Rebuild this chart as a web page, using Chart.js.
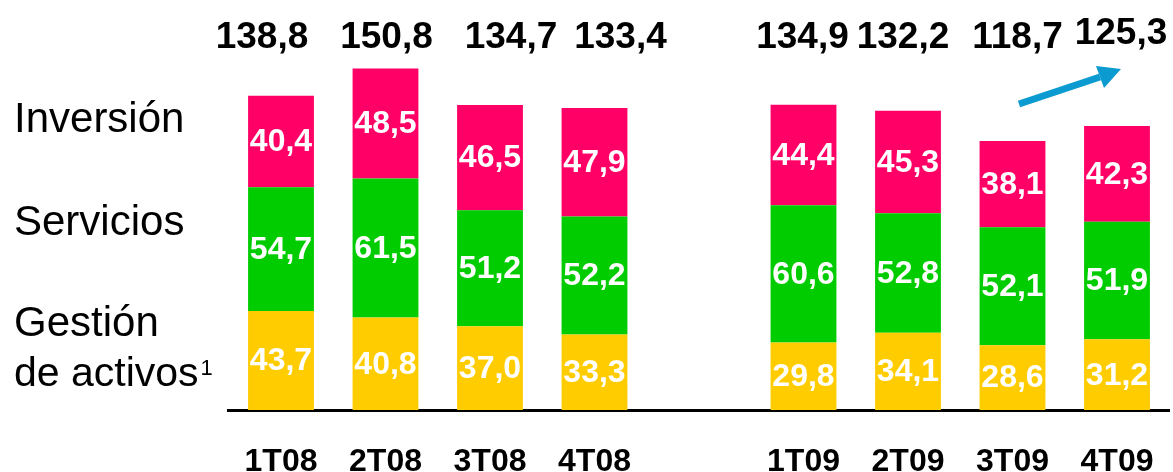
<!DOCTYPE html>
<html>
<head>
<meta charset="utf-8">
<script src="https://cdn.jsdelivr.net/npm/chart.js@4/dist/chart.umd.min.js"></script>
<style>
  body { margin: 0; background: #fff; }
  #wrap { width: 1173px; height: 472px; overflow: hidden; }
  #box { width: 1173px; height: 514px; position: relative; }
</style>
</head>
<body>
<div id="wrap"><div id="box"><canvas id="barChart"></canvas></div></div>
<script>
// quarters, with an empty slot between the two years
const quarters = ['1T08', '2T08', '3T08', '4T08', '', '1T09', '2T09', '3T09', '4T09'];
const gestion = [43.7, 40.8, 37.0, 33.3, null, 29.8, 34.1, 28.6, 31.2];
const servicios = [54.7, 61.5, 51.2, 52.2, null, 60.6, 52.8, 52.1, 51.9];
const inversion = [40.4, 48.5, 46.5, 47.9, null, 44.4, 45.3, 38.1, 42.3];
const totals = [138.8, 150.8, 134.7, 133.4, null, 134.9, 132.2, 118.7, 125.3];

// small nudges for the total labels (layout only)
const totalDx = [-19, 1, 21, 26, 0, -1, -5, 5, 4];
const totalDy = [0, 0, 0, 0, 0, 0, 0, 0, -4];

const FONT = '"Liberation Sans", Arial, sans-serif';

function fmt(v) {
    return v.toFixed(1).replace('.', ',');
}

// white numbers inside every segment
const segmentLabels = {
    id: 'segmentLabels',
    afterDatasetsDraw(chart) {
        const ctx = chart.ctx;
        ctx.save();
        ctx.fillStyle = '#fff';
        ctx.font = 'bold 32px ' + FONT;
        ctx.textAlign = 'center';
        ctx.textBaseline = 'middle';
        chart.data.datasets.forEach((ds, i) => {
            chart.getDatasetMeta(i).data.forEach((bar, j) => {
                const v = ds.data[j];
                if (v == null) return;
                ctx.fillText(fmt(v), bar.x, (bar.y + bar.base) / 2 + 1);
            });
        });
        ctx.restore();
    }
};

// totals, side labels and the trend arrow
const extras = {
    id: 'extras',
    afterDraw(chart) {
        const ctx = chart.ctx;
        const x = chart.scales.x;
        ctx.save();

        ctx.fillStyle = '#000';
        ctx.font = 'bold 37px ' + FONT;
        ctx.textAlign = 'center';
        ctx.textBaseline = 'alphabetic';
        totals.forEach((t, j) => {
            if (t == null) return;
            ctx.fillText(fmt(t), x.getPixelForValue(j) + totalDx[j], 48 + totalDy[j]);
        });

        ctx.font = '42px ' + FONT;
        ctx.textAlign = 'left';
        ctx.fillText('Inversión', 14, 132);
        ctx.fillText('Servicios', 14, 235);
        ctx.fillText('Gestión', 14, 336);
        ctx.font = '41px ' + FONT;
        ctx.fillText('de activos', 14, 386);
        const w = ctx.measureText('de activos').width;
        ctx.font = '22px ' + FONT;
        ctx.fillText('1', 14 + w + 2, 375);

        // arrow
        ctx.strokeStyle = '#0b9bd0';
        ctx.fillStyle = '#0b9bd0';
        ctx.lineWidth = 7;
        ctx.beginPath();
        ctx.moveTo(1019, 104);
        ctx.lineTo(1100, 77);
        ctx.stroke();
        ctx.beginPath();
        ctx.moveTo(1121, 69);
        ctx.lineTo(1096, 66);
        ctx.lineTo(1104, 88);
        ctx.closePath();
        ctx.fill();

        ctx.restore();
    }
};

const ctx = document.getElementById('barChart').getContext('2d');
new Chart(ctx, {
    type: 'bar',
    data: {
        labels: quarters,
        datasets: [
            { label: 'Gestión de activos', data: gestion, backgroundColor: '#ffcc00' },
            { label: 'Servicios', data: servicios, backgroundColor: '#00cc00' },
            { label: 'Inversión', data: inversion, backgroundColor: '#ff0066' }
        ]
    },
    options: {
        responsive: true,
        maintainAspectRatio: false,
        animation: false,
        layout: { padding: { left: 228.75, right: 3.75, top: 50, bottom: 0 } },
        datasets: { bar: { barPercentage: 0.63, categoryPercentage: 1 } },
        plugins: {
            legend: { display: false },
            tooltip: { enabled: false }
        },
        scales: {
            x: {
                stacked: true,
                grid: { display: false, drawTicks: false },
                border: { display: true, color: '#000', width: 3 },
                ticks: {
                    color: '#000',
                    padding: 36,
                    font: { family: FONT, size: 32, weight: 'bold', lineHeight: 1 }
                },
                // keep the tick padding from squeezing the plot sideways
                afterFit(scale) {
                    scale.paddingLeft = 0;
                    scale.paddingRight = 0;
                }
            },
            y: {
                stacked: true,
                display: false,
                min: 0,
                max: 159
            }
        }
    },
    plugins: [segmentLabels, extras]
});
</script>
</body>
</html>
